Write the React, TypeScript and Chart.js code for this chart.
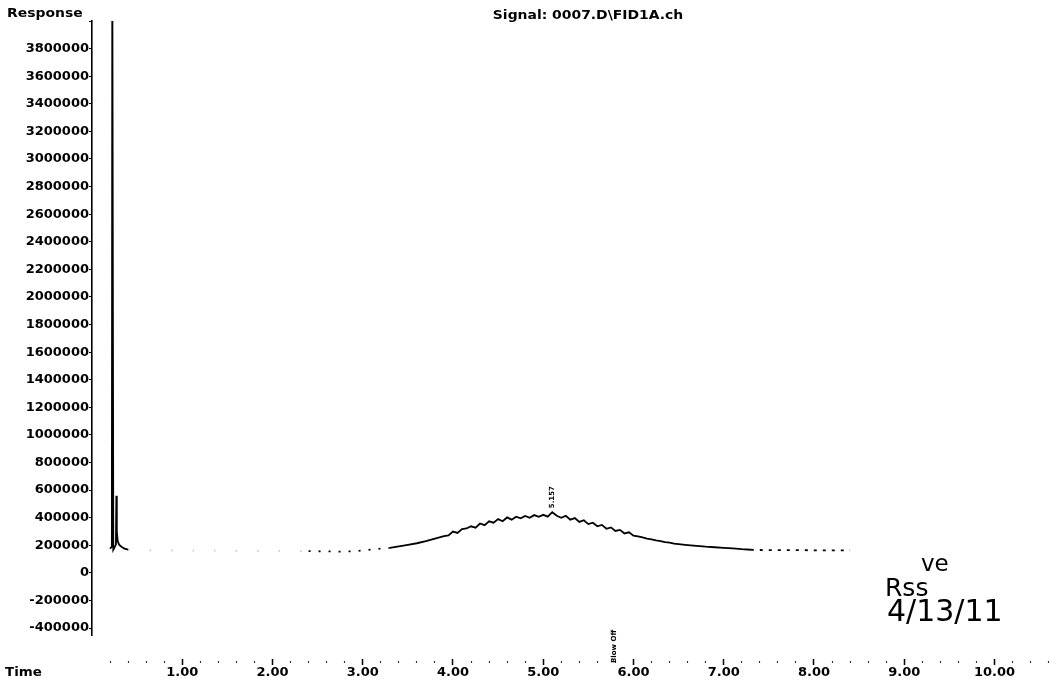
import React, { useEffect, useRef } from 'react';
import { Chart, registerables } from 'chart.js';

Chart.register(...registerables);

// Retention time (min)
const times: number[] = [
  0.2, 0.22, 0.225, 0.232, 0.236, 0.25, 0.265, 0.27, 0.275, 0.285, 0.3, 0.33, 0.36, 0.4,
  0.6, 0.8, 1.0, 1.2, 1.4, 1.6, 1.8, 2.0, 2.2, 2.4, 2.6, 2.8, 3.0, 3.1, 3.2, 3.3, 3.4, 3.5,
  3.6, 3.7, 3.8, 3.9, 3.95, 4.0, 4.05, 4.1, 4.15, 4.2, 4.25, 4.3, 4.35, 4.4, 4.45, 4.5, 4.55,
  4.6, 4.65, 4.7, 4.75, 4.8, 4.85, 4.9, 4.95, 5.0, 5.05, 5.1, 5.15, 5.2, 5.25, 5.3, 5.35, 5.4,
  5.45, 5.5, 5.55, 5.6, 5.65, 5.7, 5.75, 5.8, 5.85, 5.9, 5.95, 6.0, 6.05, 6.1, 6.15, 6.2,
  6.25, 6.3, 6.35, 6.4, 6.45, 6.5, 6.6, 6.7, 6.8, 6.9, 7.0, 7.1, 7.2, 7.3, 7.4, 7.6, 7.8,
  8.0, 8.2, 8.4,
];

// FID response
const responses: number[] = [
  175000, 190000, 4500000, 4500000, 168000, 185000, 205000, 560000, 300000, 230000, 205000,
  188000, 176000, 168000,
  164000, 163000, 162000, 161000, 161000, 160000, 160000, 159000, 159000, 158000, 156000,
  154000, 162000, 170000, 176000, 181000, 192000, 203000,
  215000, 230000, 248000, 266000, 272000, 300000, 290000, 318000, 322000, 338000, 328000,
  358000, 346000, 374000, 364000, 390000, 374000,
  402000, 386000, 407000, 396000, 413000, 400000, 419000, 406000, 421000, 408000, 440000,
  414000, 400000, 414000, 386000, 397000, 370000,
  382000, 354000, 364000, 338000, 348000, 320000, 330000, 304000, 312000, 286000, 294000,
  270000, 264000, 257000, 248000, 243000,
  235000, 231000, 223000, 220000, 213000, 209000, 202000, 196000, 190000, 186000, 182000,
  178000, 172000, 168000, 166000, 165000, 165000,
  164000, 163000, 163000,
];

const yTickValues: number[] = [
  -400000, -200000, 0, 200000, 400000, 600000, 800000, 1000000, 1200000, 1400000, 1600000,
  1800000, 2000000, 2200000, 2400000, 2600000, 2800000, 3000000, 3200000, 3400000, 3600000,
  3800000, 4000000,
];
const xMajorValues: number[] = [1, 2, 3, 4, 5, 6, 7, 8, 9, 10];
const xMajorLabels: string[] = ['1.00', '2.00', '3.00', '4.00', '5.00', '6.00', '7.00', '8.00', '9.00', '10.00'];
const xMinorTicks: number[] = Array.from({ length: 53 }, (_, i) => Math.round((i + 1) * 2) / 10);

const peakTimes: number[] = [5.1];
const peakResponses: number[] = [440000];
const peakTexts: string[] = ['5.157'];
const eventTimes: number[] = [5.79];
const eventTexts: string[] = ['Blow Off'];

const FONT = "'DejaVu Sans', sans-serif";

const isMajor = (v: number) => xMajorValues.some((m) => Math.abs(m - v) < 1e-6);

const annotationPlugin = {
  id: 'annotations',
  afterDraw(chart: any) {
    const { ctx, scales } = chart;
    const x = scales.x;
    const y = scales.y;
    ctx.save();
    ctx.fillStyle = '#000';
    ctx.font = `bold 7px ${FONT}`;
    ctx.textBaseline = 'middle';
    ctx.textAlign = 'left';
    peakTimes.forEach((t, i) => {
      const px = x.getPixelForValue(t);
      const py = y.getPixelForValue(peakResponses[i]) - 4;
      ctx.save();
      ctx.translate(px, py);
      ctx.rotate(-Math.PI / 2);
      ctx.fillText(peakTexts[i], 0, 0);
      ctx.restore();
    });
    eventTimes.forEach((t, i) => {
      const px = x.getPixelForValue(t);
      const py = x.top + 28;
      ctx.save();
      ctx.translate(px, py);
      ctx.rotate(-Math.PI / 2);
      ctx.fillText(eventTexts[i], 0, 0);
      ctx.restore();
    });
    ctx.restore();
  },
};

export default function App() {
  const canvasRef = useRef<HTMLCanvasElement | null>(null);

  useEffect(() => {
    if (!canvasRef.current) return;
    const segStyle = (c: any) => {
      const t = c.p0.parsed.x;
      if (t >= 0.4 && t < 2.4) return 'faint';
      if (t >= 2.4 && t < 3.3) return 'dots';
      if (t >= 7.3) return 'dots2';
      return 'solid';
    };
    const chart = new Chart(canvasRef.current, {
      type: 'line',
      data: {
        datasets: [
          {
            data: times.map((t, i) => ({ x: t, y: responses[i] })),
            borderColor: '#000',
            borderWidth: 1.8,
            pointRadius: 0,
            tension: 0,
            segment: {
              borderColor: (c: any) => (segStyle(c) === 'faint' ? 'rgba(0,0,0,0.22)' : '#000'),
              borderDash: (c: any) => {
                const s = segStyle(c);
                if (s === 'faint') return [1.5, 20];
                if (s === 'dots') return [2, 8];
                if (s === 'dots2') return [3, 6];
                return [];
              },
            },
          },
        ],
      },
      options: {
        animation: false,
        responsive: false,
        devicePixelRatio: 1,
        layout: { padding: { left: 0, right: 11.4, top: 21, bottom: 0 } },
        plugins: { legend: { display: false }, tooltip: { enabled: false }, title: { display: false } },
        scales: {
          x: {
            type: 'linear',
            min: 0,
            max: 10.6,
            afterBuildTicks: (s: any) => {
              s.ticks = xMinorTicks.map((v) => ({ value: v }));
            },
            afterFit: (s: any) => {
              s.height = 49;
            },
            border: { display: false },
            grid: {
              drawOnChartArea: false,
              drawTicks: true,
              tickLength: 30,
              tickColor: (c: any) => (isMajor(c.tick?.value) ? '#000' : '#333'),
              tickWidth: (c: any) => (isMajor(c.tick?.value) ? 1.5 : 1.2),
              tickBorderDash: (c: any) => (isMajor(c.tick?.value) ? [0, 24, 7, 100] : [0, 26, 2, 100]),
            } as any,
            ticks: {
              autoSkip: false,
              maxRotation: 0,
              minRotation: 0,
              padding: 0,
              color: '#000',
              font: { family: FONT, weight: 'bold', size: 13 },
              callback: (v: any) => {
                const idx = xMajorValues.findIndex((m) => Math.abs(m - Number(v)) < 1e-6);
                return idx >= 0 ? xMajorLabels[idx] : '';
              },
            },
          },
          y: {
            type: 'linear',
            min: -450000,
            max: 4000000,
            afterBuildTicks: (s: any) => {
              s.ticks = yTickValues.map((v) => ({ value: v }));
            },
            afterFit: (s: any) => {
              s.width = 92;
            },
            border: { display: true, color: '#000', width: 1.6 },
            grid: { drawOnChartArea: false, drawTicks: true, tickLength: 3, tickColor: '#000', tickWidth: 1 },
            ticks: {
              padding: 0,
              color: '#000',
              font: { family: FONT, weight: 'bold', size: 13 },
              callback: (v: any) => (Number(v) === 4000000 ? '' : String(v)),
            },
          },
        },
      },
      plugins: [annotationPlugin],
    });
    return () => chart.destroy();
  }, []);

  const txt: React.CSSProperties = {
    position: 'absolute',
    fontFamily: FONT,
    fontWeight: 'bold',
    color: '#000',
    whiteSpace: 'nowrap',
    transformOrigin: 'left top',
  };
  const hand: React.CSSProperties = {
    position: 'absolute',
    fontFamily: FONT,
    fontWeight: 'normal',
    color: '#000',
    whiteSpace: 'nowrap',
    lineHeight: 1,
  };

  return (
    <div style={{ position: 'fixed', left: 0, top: 0, width: 1060, height: 684, background: '#fff', overflow: 'hidden' }}>
      <canvas ref={canvasRef} width={1060} height={684} style={{ position: 'absolute', left: 0, top: 0 }} />
      <div style={{ ...txt, left: 588, top: 7, fontSize: 12, lineHeight: '16px', transform: 'translateX(-50%) scaleX(1.16)', transformOrigin: 'center top' }}>
        Signal: 0007.D\FID1A.ch
      </div>
      <div style={{ ...txt, left: 7, top: 5, fontSize: 12, lineHeight: '16px', transform: 'scaleX(1.16)' }}>Response</div>
      <div style={{ ...txt, left: 5, top: 665, fontSize: 12, lineHeight: '14px', transform: 'scaleX(1.12)' }}>Time</div>
      <div style={{ ...hand, left: 921, top: 552, fontSize: 23 }}>ve</div>
      <div style={{ ...hand, left: 885, top: 575, fontSize: 25 }}>Rss</div>
      <div style={{ ...hand, left: 887, top: 596, fontSize: 30 }}>4/13/11</div>
    </div>
  );
}
